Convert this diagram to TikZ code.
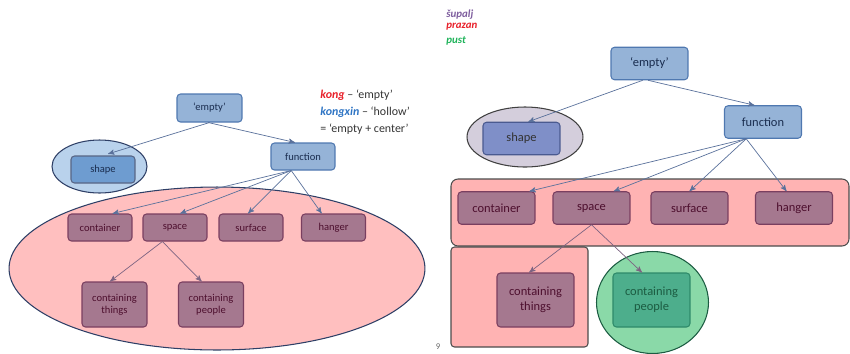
\documentclass[tikz,border=0pt]{standalone}
\usepackage{fontspec}
\setmainfont{Carlito}
\newcommand*{\smallfont}{\fontsize{6}{7}\selectfont}
\newcommand*{\midfont}{\fontsize{7.1}{8.4}\selectfont}
\newcommand*{\legendfont}{\fontsize{6.8}{8}\selectfont}
\definecolor{boxblue}{HTML}{95B3D7}
\definecolor{edgeblue}{HTML}{4F78B0}
\definecolor{navytext}{HTML}{1A2D4F}
\definecolor{shapeblue}{HTML}{6E9CD0}
\definecolor{ringblue}{HTML}{B9D2EC}
\definecolor{ringedge}{HTML}{2E3F66}
\definecolor{ringpink}{HTML}{FFBFBF}
\definecolor{rectpink}{HTML}{FFB3B3}
\definecolor{plum}{HTML}{A5788F}
\definecolor{darkplum}{HTML}{7A3F60}
\definecolor{plumtext}{HTML}{4D0F2E}
\definecolor{slate}{HTML}{7F8FC8}
\definecolor{slateedge}{HTML}{4A5A90}
\definecolor{lilac}{HTML}{D4CEDC}
\definecolor{mint}{HTML}{8AD9A8}
\definecolor{jade}{HTML}{4DAE8C}
\definecolor{jadeedge}{HTML}{2E8A6A}
\definecolor{jadetext}{HTML}{1C5C42}
\definecolor{kongred}{HTML}{E8212B}
\definecolor{kongblue}{HTML}{2F75C4}
\definecolor{supalj}{HTML}{7E5E9E}
\definecolor{pustgreen}{HTML}{1FB35A}
\definecolor{arrowgrey}{HTML}{5A719B}
\definecolor{arrowplum}{HTML}{7D6482}
\usepackage{tikz}
\usetikzlibrary{arrows}
\tikzstyle{base}=[x=0.02cm, y=-0.02cm, >=stealth', inner sep=0pt]
\tikzstyle{bluebox}=[draw=edgeblue, fill=boxblue, text=navytext, rounded corners=2pt, line width=0.6pt]
\tikzstyle{plumbox}=[draw=darkplum, fill=plum, text=plumtext, rounded corners=2pt, line width=0.6pt]
\tikzstyle{lsize}=[minimum width=1.28cm, minimum height=0.54cm, font=\smallfont]
\tikzstyle{rsize}=[minimum width=1.54cm, minimum height=0.65cm, font=\midfont]
\tikzstyle{legend}=[anchor=west, font=\legendfont, text=black!80]
\tikzstyle{word}=[anchor=west, font=\fontsize{6.2}{7}\selectfont\bfseries\itshape]
\tikzstyle{link}=[->, arrowgrey, line width=0.4pt]

\begin{document}
\begin{tikzpicture}[base]
    \useasboundingbox (0,0) rectangle (850,353);
    % left
    \draw [ringedge, fill=ringpink, line width=0.6pt] (217,268.5) ellipse [x radius=4.16cm, y radius=1.63cm];
    \draw [ringedge, fill=ringblue, line width=0.6pt] (99.5,166.5) ellipse [x radius=0.95cm, y radius=0.53cm];
    \node [bluebox, lsize, minimum width=1.3cm, minimum height=0.56cm] (lempty) at (209.5,108) {‘empty’};
    \node [bluebox, lsize] (lfunction) at (303,156.5) {function};
    \node [bluebox, lsize, fill=shapeblue, draw=ringedge!80] (lshape) at (103,169.5) {shape};
    \node [plumbox, lsize] (lcontainer) at (100,227.5) {container};
    \node [plumbox, lsize] (lspace) at (175,227.5) {space};
    \node [plumbox, lsize] (lsurface) at (251,227.5) {surface};
    \node [plumbox, lsize] (lhanger) at (333.5,227.5) {hanger};
    \node [plumbox, lsize, minimum width=1.3cm, minimum height=0.9cm, align=center] (lthings) at (114.5,304.5) {containing\\things};
    \node [plumbox, lsize, minimum width=1.3cm, minimum height=0.9cm, align=center] (lpeople) at (211,304.5) {containing\\people};
    \node [legend] (kong) at (320,95) {\textcolor{kongred}{\textbf{\textit{kong}}} – ‘empty’};
    \node [legend] (kongxin) at (320,112) {\textcolor{kongblue}{\textbf{\textit{kongxin}}} – ‘hollow’};
    \node [legend] (center) at (320,129) {= ‘empty + center’};
    \draw [link, shorten >=3pt] (lempty.south) -- (lshape.north);
    \draw [link] (lempty.265) -- (lfunction.120);
    \draw [link] (lfunction.230) -- (lcontainer.48);
    \draw [link] (lfunction.230) -- (lspace.70);
    \draw [link] (lfunction.230) -- (lsurface.102);
    \draw [link] (lfunction.230) -- (lhanger.130);
    \draw [link, arrowplum] (lspace.228) -- (lthings.101);
    \draw [link, arrowplum] (lspace.228) -- (lpeople.112);
    % right
    \node [word, text=supalj] (supalj) at (446,15) {šupalj};
    \node [word, text=kongred] (prazan) at (446,27) {prazan};
    \node [word, text=pustgreen] (pust) at (446,41) {pust};
    \draw [black!75, fill=lilac, line width=0.6pt] (525,137) ellipse [x radius=1.16cm, y radius=0.6cm];
    \draw [black!70, fill=rectpink, rounded corners=4pt, line width=0.6pt] (451,179) rectangle (849,246);
    \draw [black!70, fill=rectpink, rounded corners=2pt, line width=0.6pt] (451,247) rectangle (588,347);
    \draw [jadetext, fill=mint, line width=0.6pt] (652.5,302.5) ellipse [x radius=1.12cm, y radius=1.02cm];
    \node [bluebox, rsize] (rempty) at (649.5,63.5) {‘empty’};
    \node [bluebox, rsize] (rfunction) at (763,122) {function};
    \node [bluebox, rsize, fill=slate, draw=slateedge, text=black!80] (rshape) at (521.5,138.5) {shape};
    \node [plumbox, rsize] (rcontainer) at (496.5,208) {container};
    \node [plumbox, rsize] (rspace) at (591.5,208) {space};
    \node [plumbox, rsize] (rsurface) at (689.5,208) {surface};
    \node [plumbox, rsize] (rhanger) at (794,208) {hanger};
    \node [plumbox, rsize, minimum height=1.08cm, align=center] (rthings) at (535.5,300) {containing\\things};
    \node [plumbox, rsize, minimum height=1.08cm, align=center, fill=jade, draw=jadeedge, text=jadetext] (rpeople) at (651.5,300) {containing\\people};
    \node [font=\fontsize{5}{6}\selectfont, text=black!60] (page) at (438,347) {9};
    \draw [link] (rempty.248) -- (rshape.68);
    \draw [link] (rempty.265) -- (rfunction.117);
    \draw [link] (rfunction.225) -- (rcontainer.27);
    \draw [link] (rfunction.225) -- (rspace.37);
    \draw [link] (rfunction.225) -- (rsurface.90);
    \draw [link] (rfunction.225) -- (rhanger.114);
    \draw [link, arrowplum] (rspace.south) -- (rthings.103);
    \draw [link, arrowplum] (rspace.south) -- (rpeople.109);
\end{tikzpicture}
\end{document}
